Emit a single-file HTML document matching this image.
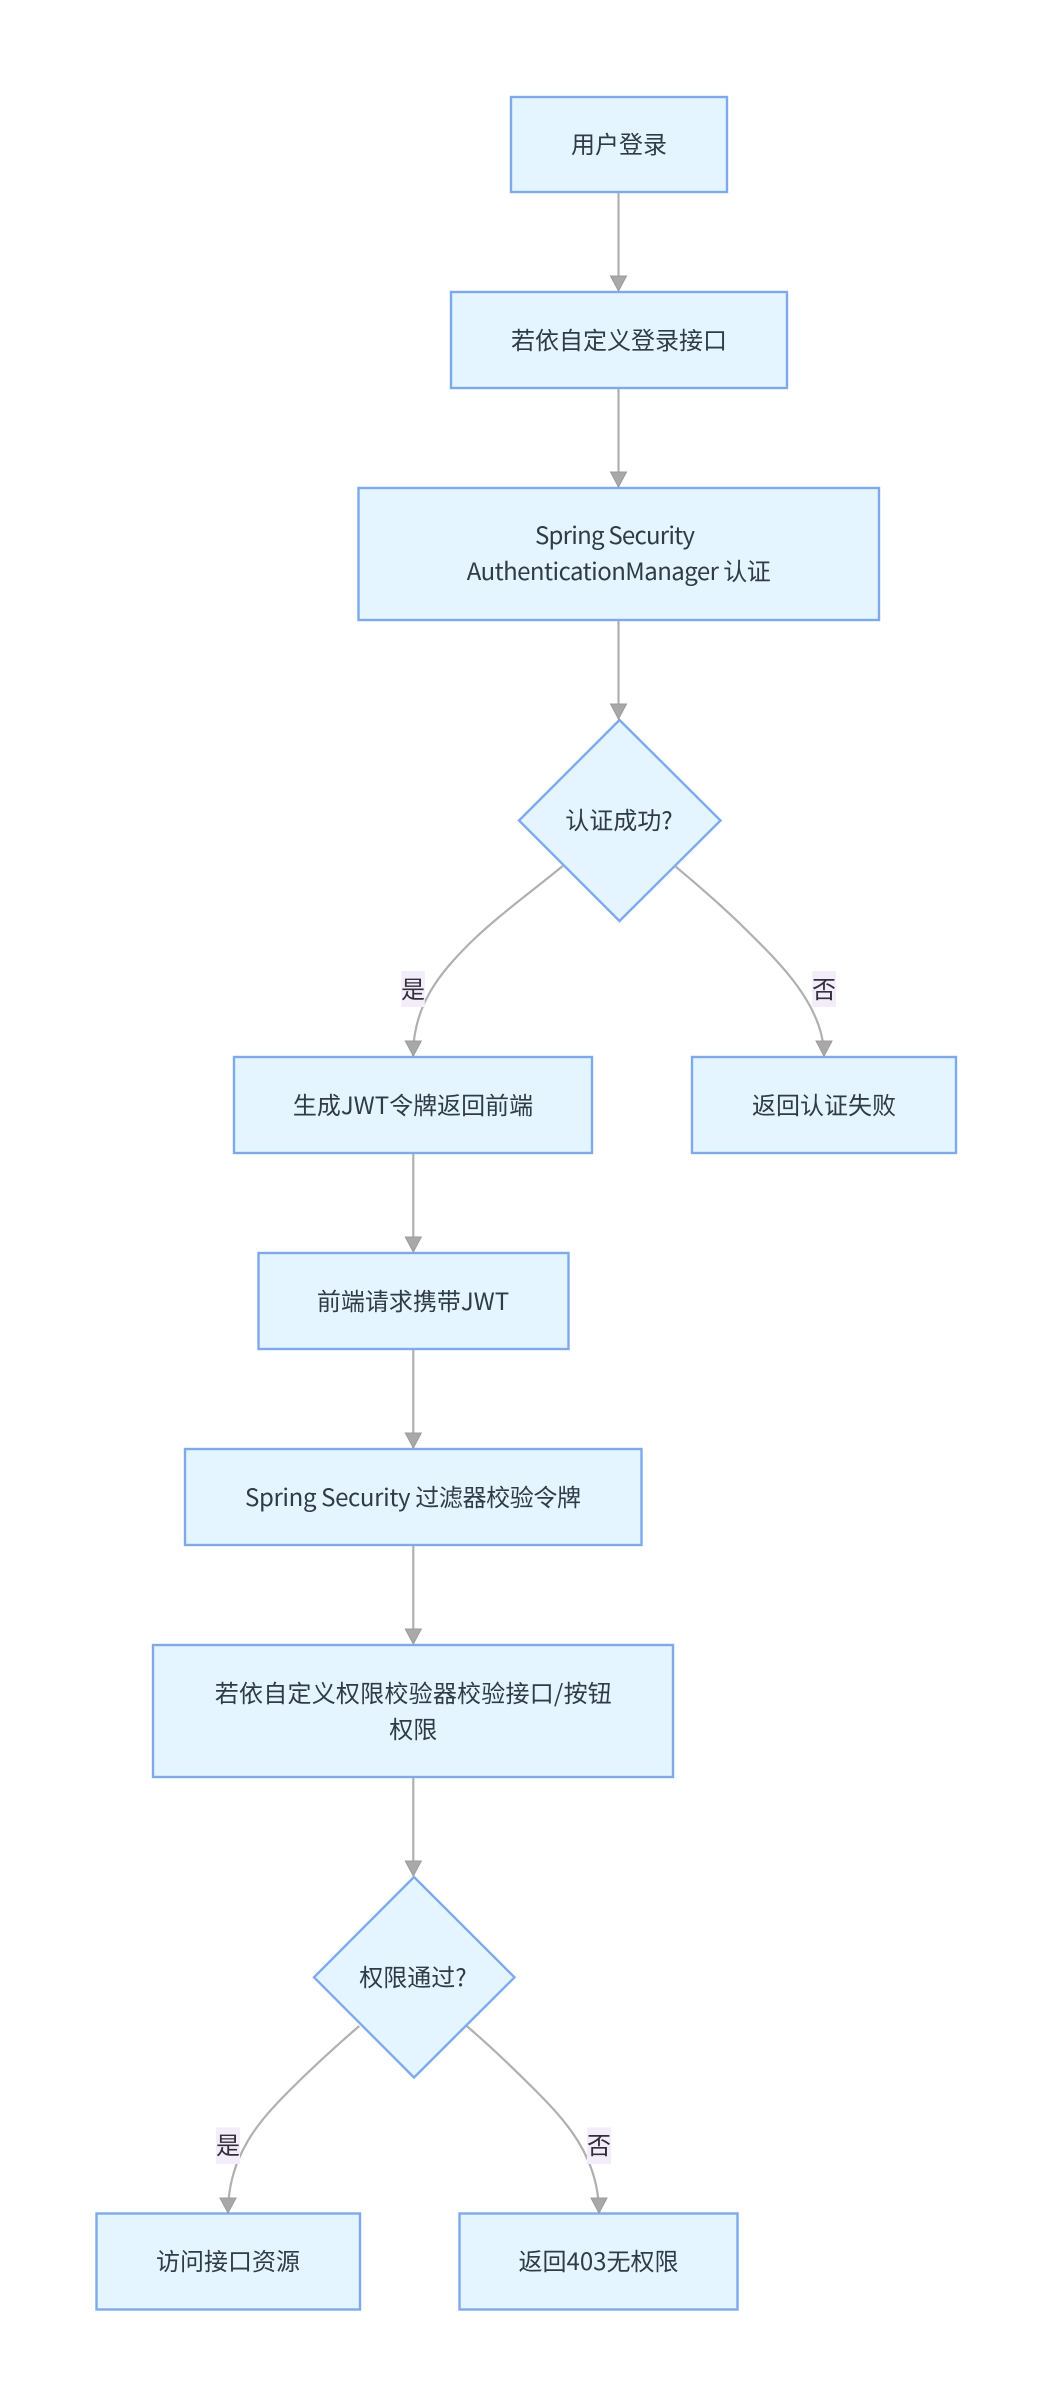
<!DOCTYPE html>
<html>
<head>
<meta charset="utf-8">
<style>
html,body{margin:0;padding:0;background:#fff;width:1052px;height:2405px;overflow:hidden}
svg{display:block}
.n{fill:#e4f5ff;stroke:#7eaaec;stroke-width:2.4}
.e{fill:none;stroke:#b0b0b0;stroke-width:2.2}
.a{fill:#a8a8a8;stroke:#9c9c9c;stroke-width:1}
.l{fill:#f2edf9}
text{font-family:"Noto Sans CJK SC","Liberation Sans",sans-serif;font-size:24px;fill:#2f3b47;text-anchor:middle}
.t{fill:#332d3d}
</style>
</head>
<body>
<svg width="1052" height="2405" viewBox="0 0 1052 2405" xmlns="http://www.w3.org/2000/svg">
<rect width="1052" height="2405" fill="#fff"/>

<path class="e" d="M618.5 192V290"/>
<path class="e" d="M618.5 388V487"/>
<path class="e" d="M618.5 620V719"/>
<path class="e" d="M413.3 1153V1251"/>
<path class="e" d="M413.3 1349V1448"/>
<path class="e" d="M413.3 1545V1643"/>
<path class="e" d="M413.3 1777V1875"/>
<path class="e" d="M562.7 866C530 893 500 914 470 943C440 973 413 1005 413 1056"/>
<path class="e" d="M675.7 866.7C700 887 722 906 743 926.7C778 961 824 1005 824 1056"/>
<path class="e" d="M359.3 2026C336 2046 313 2067 290 2090C260 2120 228 2155 228 2213"/>
<path class="e" d="M466.7 2026C490 2046 512 2067 533 2088C563 2118 599 2155 599 2213"/>

<rect class="n" x="511" y="97" width="216" height="95"/>
<rect class="n" x="451" y="292" width="336" height="96"/>
<rect class="n" x="358.5" y="488" width="520.5" height="132"/>
<polygon class="n" points="619.5,720 720.5,820.5 619.5,921 519,820.5"/>
<rect class="n" x="234" y="1057" width="358" height="96"/>
<rect class="n" x="692" y="1057" width="264" height="96"/>
<rect class="n" x="258.5" y="1253" width="310" height="96"/>
<rect class="n" x="185" y="1449" width="456.5" height="96"/>
<rect class="n" x="153" y="1645" width="520" height="132"/>
<polygon class="n" points="414,1877 514.5,1977.3 414,2077.5 314,1977.3"/>
<rect class="n" x="96.5" y="2213.5" width="263.5" height="96"/>
<rect class="n" x="459.5" y="2213.5" width="278" height="96"/>

<polygon class="a" points="610.5,276 626.5,276 618.5,291"/>
<polygon class="a" points="610.5,472 626.5,472 618.5,487"/>
<polygon class="a" points="610.5,704 626.5,704 618.5,719"/>
<polygon class="a" points="405.3,1041 421.3,1041 413.3,1056"/>
<polygon class="a" points="816,1041 832,1041 824,1056"/>
<polygon class="a" points="405.3,1237 421.3,1237 413.3,1252"/>
<polygon class="a" points="405.3,1433 421.3,1433 413.3,1448"/>
<polygon class="a" points="405.3,1629 421.3,1629 413.3,1644"/>
<polygon class="a" points="405.3,1861 421.3,1861 413.3,1876"/>
<polygon class="a" points="220,2198 236,2198 228,2213"/>
<polygon class="a" points="591,2198 607,2198 599,2213"/>

<rect class="l" x="401.3" y="971" width="23.5" height="36"/>
<rect class="l" x="812.3" y="971" width="23.7" height="36"/>
<rect class="l" x="216" y="2127.5" width="24" height="36.5"/>
<rect class="l" x="587" y="2127.5" width="24" height="36.5"/>
<text class="t" x="413" y="998">是</text>
<text class="t" x="824" y="998">否</text>
<text class="t" x="228" y="2154">是</text>
<text class="t" x="599" y="2154">否</text>

<text x="619" y="153">用户登录</text>
<text x="619" y="349">若依自定义登录接口</text>
<text x="615" y="544" textLength="160">Spring Security</text>
<text x="618.7" y="580" textLength="304">AuthenticationManager 认证</text>
<text x="619" y="829">认证成功?</text>
<text x="413" y="1114">生成JWT令牌返回前端</text>
<text x="824" y="1114">返回认证失败</text>
<text x="413" y="1310">前端请求携带JWT</text>
<text x="413" y="1506" textLength="336">Spring Security 过滤器校验令牌</text>
<text x="413.3" y="1702" textLength="397">若依自定义权限校验器校验接口/按钮</text>
<text x="413.3" y="1738">权限</text>
<text x="413" y="1986">权限通过?</text>
<text x="228" y="2270">访问接口资源</text>
<text x="598.5" y="2270">返回403无权限</text>
</svg>
</body>
</html>
